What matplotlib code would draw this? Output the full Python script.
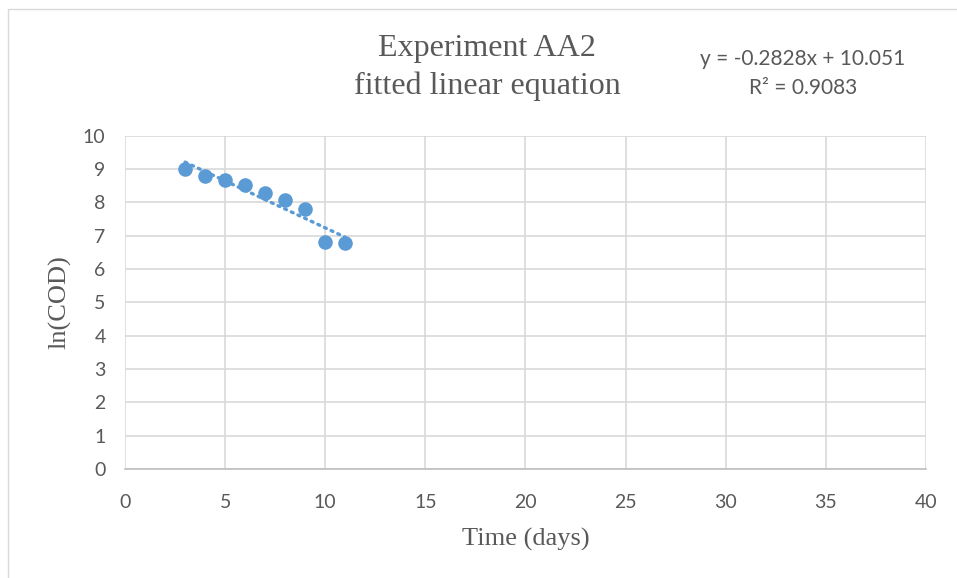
import matplotlib.pyplot as plt
import numpy as np
from matplotlib.patches import Rectangle

# data
days = [3, 4, 5, 6, 7, 8, 9, 10, 11]
ln_cod = [9.00, 8.78, 8.66, 8.53, 8.28, 8.07, 7.81, 6.81, 6.79]
x_ticks = [0, 5, 10, 15, 20, 25, 30, 35, 40]
y_ticks = [0, 1, 2, 3, 4, 5, 6, 7, 8, 9, 10]

blue = '#5b9bd5'
grey_text = '#595959'

fig = plt.figure(figsize=(9.57, 5.78), dpi=100)
ax = fig.add_axes([0.1306, 0.1886, 0.8370, 0.5766])

# chart area border
fig.patches.append(Rectangle((0.008, -0.01), 1.2, 0.995, transform=fig.transFigure,
                             fill=False, edgecolor='#d9d9d9', linewidth=1))

# linear trendline (dotted)
slope, intercept = np.polyfit(days, ln_cod, 1)
xs = np.array([days[0], days[-1]])
ax.plot(xs, slope * xs + intercept, linestyle=(0, (0.6, 1.6)), color=blue,
        linewidth=2.4, dash_capstyle='round', zorder=3)

ax.scatter(days, ln_cod, s=110, color=blue, zorder=4, linewidths=0)

ax.set_xlim(0, 40)
ax.set_ylim(0, 10)
ax.set_xticks(x_ticks)
ax.set_yticks(y_ticks)
ax.grid(True, color='#d9d9d9', linewidth=1.2)
ax.set_axisbelow(True)
for side in ['top', 'right', 'left']:
    ax.spines[side].set_visible(False)
ax.spines['bottom'].set_color('#bfbfbf')
ax.spines['bottom'].set_linewidth(1.2)
ax.tick_params(length=0, labelsize=14, labelcolor=grey_text)
ax.tick_params(axis='x', pad=18)
ax.tick_params(axis='y', pad=14)
for lbl in ax.get_xticklabels() + ax.get_yticklabels():
    lbl.set_fontfamily('Lato')

ax.set_xlabel('Time (days)', family='Liberation Serif', fontsize=19,
              color=grey_text, labelpad=12)
ax.set_ylabel('ln(COD)', family='Liberation Serif', fontsize=19,
              color=grey_text, labelpad=8)

fig.text(0.509, 0.884, 'Experiment AA2\nfitted linear equation', ha='center', va='center',
         family='Liberation Serif', fontsize=23, color=grey_text, linespacing=1.38)
fig.text(0.839, 0.873, 'y = -0.2828x + 10.051\nR² = 0.9083', ha='center', va='center',
         family='Lato', fontsize=15, color=grey_text, linespacing=1.6)

fig.savefig('out.png', dpi=100)
